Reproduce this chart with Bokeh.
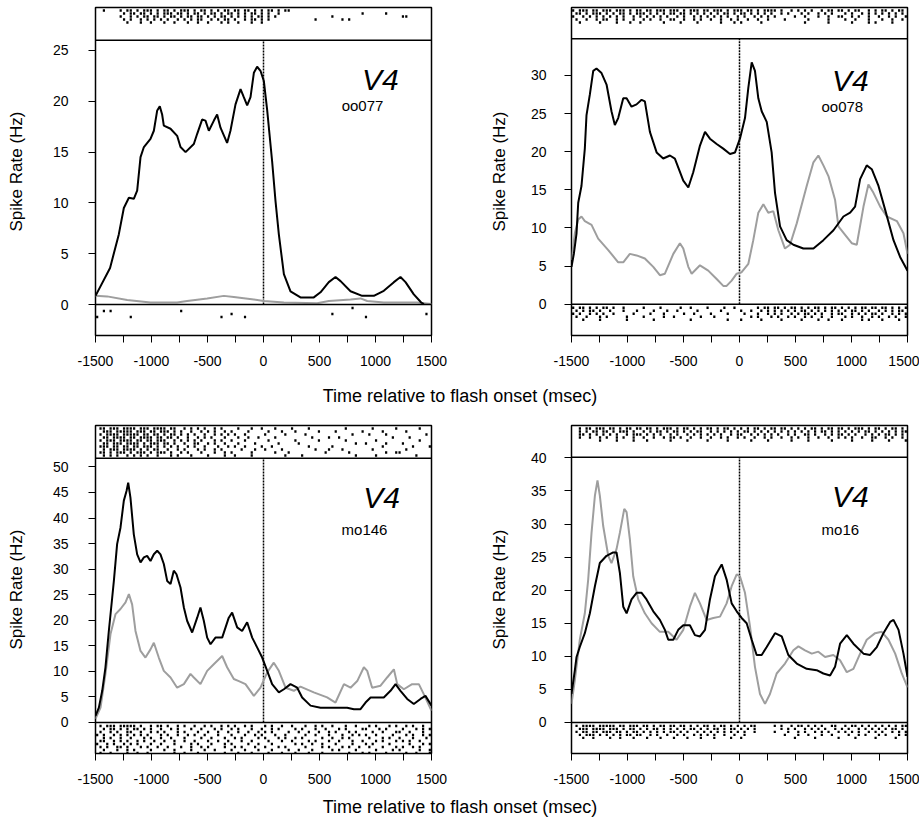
from bokeh.plotting import figure
from bokeh.layouts import column, row
from bokeh.models import FixedTicker, Label, Span
from bokeh.embed import file_html
from bokeh.resources import INLINE

FONT = "Liberation Sans"
GREY = "#9e9e9e"
AREA = "V4"
X_LABEL = "Time relative to flash onset (msec)"
Y_LABEL = "Spike Rate (Hz)"
X_TICKS = [-1500, -1000, -500, 0, 500, 1000, 1500]
X_TICK_LABELS = ["-1500", "-1000", "-500", "0", "500", "1000", "1500"]
X_MINOR = [-1250, -750, -250, 250, 750, 1250]
ONSET = 0
BIN_MS = 30  # raster strings: one character per 30 ms bin, 'x' = spike

# ---------------- panel 1 : oo077 ----------------
p1_id = "oo077"
p1_yticks = [0, 5, 10, 15, 20, 25]
p1_black_t = [-1500, -1370, -1292, -1247, -1202, -1158, -1128, -1098, -1068, -1009, -979, -949, -926, -905, -890,
              -830, -771, -741, -696, -622, -592, -548, -518, -488, -443, -414, -384, -325, -295, -250, -205, -176,
              -146, -116, -86, -57, -27, 3, 33, 77, 107, 137, 182, 241, 330, 449, 509, 583, 643, 688, 777, 881, 985,
              1074, 1164, 1223, 1268, 1342, 1408, 1432]
p1_black_v = [0.85, 3.6, 6.9, 9.5, 10.5, 10.4, 11.2, 14.5, 15.5, 16.3, 17.1, 19.1, 19.5, 18.7, 17.6, 17.3, 16.6, 15.5,
              15.0, 15.8, 16.8, 18.2, 18.1, 17.1, 18.1, 18.7, 17.4, 15.9, 17.1, 19.7, 21.2, 20.4, 19.6, 20.4, 22.8,
              23.4, 23.0, 22.0, 19.1, 14.1, 10.2, 6.9, 3.0, 1.3, 0.7, 0.7, 1.2, 2.2, 2.7, 2.3, 1.3, 0.85, 0.85, 1.35,
              2.2, 2.7, 2.2, 1.0, 0.2, 0.03]
p1_grey_t = [-1500, -1396, -1217, -1009, -771, -682, -503, -354, -265, -86, 3, 182, 479, 583, 777, 866, 926, 1074,
             1372, 1500]
p1_grey_v = [0.85, 0.8, 0.45, 0.2, 0.2, 0.35, 0.6, 0.85, 0.75, 0.5, 0.35, 0.2, 0.13, 0.35, 0.5, 0.6, 0.35, 0.2, 0.2,
             0.05]
p1_top_rows = [
    "..x...." + "x.xx.x.x" "xx.x.xx." "x.xxx.x." "xx.x.x.x" "x.xx.xx." "x.x.xx.x" + ".xx" + "." * 42,
    "......." + ".x.xx.xx" ".x.x.xxx" ".xx.x.xx" ".x.xx.x." "xx.x.x.x" "x.x.x..x" + "." * 24 + "x" + "." * 6 + "x" + "." * 13,
    "......." + "x..x.x.x" "x.xx.x.x" "x.x.xx.x" "x.x.x.xx" ".x.x.x.x" ".xx.x.x." + "." * 15 + "x" + "." * 20 + "xx" + "." * 7,
    "......." + ".x.x..x." "x.x.x.x." ".x.x.x.x" "x..x.x.x" "x.x..x.x" "x.x.x..." + "." * 10 + "x" + "." * 7 + "x.x" + "." * 24,
    "......." + "..x...x." ".x...x.." "x...x..x" "..x...x." "x..x...x" "..x....." + "." * 45,
]
p1_bottom_rows = [
    "." * 76 + "x" + "." * 23,
    "..x.x" + "." * 20 + "x" + "." * 74,
    "." * 40 + "x" + "." * 29 + "x" + "." * 27 + "x" + ".",
    "x" + "." * 9 + "x" + "." * 26 + "x" + "." * 6 + "x" + "." * 35 + "x" + "." * 19,
]

# ---------------- panel 2 : oo078 ----------------
p2_id = "oo078"
p2_yticks = [0, 5, 10, 15, 20, 25, 30]
p2_black_t = [-1500, -1479, -1455, -1440, -1411, -1381, -1366, -1336, -1306, -1277, -1232, -1187, -1143, -1113,
              -1083, -1038, -1008, -964, -919, -874, -845, -800, -740, -681, -621, -577, -502, -457, -413, -353,
              -308, -264, -204, -145, -85, -40, 4, 49, 79, 109, 138, 168, 198, 243, 287, 317, 362, 421, 481, 570,
              660, 749, 839, 928, 988, 1032, 1077, 1136, 1181, 1241, 1300, 1375, 1434, 1500]
p2_black_v = [4.9, 6.6, 9.3, 13.3, 15.5, 20.4, 24.8, 27.5, 30.6, 30.9, 30.3, 28.8, 25.3, 23.5, 24.4, 27.0, 27.0,
              25.9, 26.2, 26.8, 26.6, 22.6, 19.9, 19.1, 19.5, 19.1, 16.2, 15.3, 17.3, 20.8, 22.6, 21.7, 21.0, 20.4,
              19.7, 19.9, 21.7, 24.4, 28.4, 31.7, 30.6, 27.0, 25.3, 23.9, 19.9, 14.6, 10.2, 8.4, 7.8, 7.3, 7.3, 8.4,
              9.7, 11.5, 12.0, 12.8, 16.4, 18.2, 17.7, 15.5, 12.4, 8.4, 6.2, 4.4]
p2_grey_t = [-1500, -1470, -1440, -1411, -1381, -1321, -1262, -1172, -1083, -1038, -979, -919, -845, -770, -711,
             -666, -591, -532, -502, -457, -427, -353, -279, -204, -145, -115, -70, -25, 19, 79, 123, 168, 213, 257,
             302, 347, 406, 451, 511, 600, 660, 704, 749, 794, 853, 883, 943, 1002, 1047, 1107, 1151, 1196, 1256,
             1315, 1405, 1464, 1500]
p2_grey_v = [5.8, 9.3, 11.1, 11.5, 10.9, 10.4, 8.6, 7.1, 5.5, 5.5, 6.6, 6.4, 6.0, 4.9, 3.8, 4.0, 6.6, 8.0, 7.3, 4.9,
             4.0, 5.1, 4.4, 3.3, 2.4, 2.4, 3.1, 4.0, 4.2, 5.3, 8.4, 12.0, 13.1, 12.0, 12.2, 9.7, 7.3, 7.8, 10.6, 15.5,
             18.6, 19.5, 18.2, 16.8, 13.7, 10.2, 9.1, 8.0, 7.8, 12.8, 15.7, 14.6, 12.8, 11.5, 10.9, 9.3, 6.6]
p2_top_rows = [
    "x.xxx.xx.x" "xx.xxx.x.x" "x.xx.xxx.x" "xx.x.xxx.x" "x.xxx.x.xx" "x.xx.x.xxx" "x.x..x.x.x" ".x..x.xx.x" "x.x.xx..x." "x.xx.x.xx.",
    ".xx.x.xxx." "x.x.xx.x.x" "xx.x.x.x.x" "x.xx.x.x.x" ".x.x.xx.x." "xx.x.x.x.x" "..x.x...x." "x..x.x.x.." ".x.x..x.x." "x.x.x.x.x.",
    "x..x.x.x.x" ".x.x.x..x." "x.x.x.x.x." ".x.x..x.x." "x.x.x.x..x" ".x..x.x.x." "x.....x..x" "...x..x..x" "x..x.x..x." ".x..x.x..x",
    ".x..x..x.x" "x..x.x..x." ".x.x..x..x" "x..x..x.x." ".x..x..x.x" "..x..x..x." "...x......" "x.....x..." ".x..x...x." "..x..x..x.",
    "..x.....x." "...x...x.." "x......x.." "..x....x.." "....x...x." "x.....x..." ".........x" "......x..." "...x....x." "x....x....",
]
p2_bottom_rows = [
    "x.xx.x.x.x" "x.x..x...." ".x....x..." "..x..x...." "x....x..x." ".....x.xx." "xx.x.xx.x." "x.xx.x.xx." "x.x.x.xx.x" "x.xx.x.x.x",
    ".x.x.xx.x." ".x...x...x" "....x...x." ".x.....x.." "....x....." "x..x..x.x." "x.x.x.x.xx" ".x.x.x.x.x" ".x.xx.x.x." ".x.x.x.xx.",
    "x.x..x.x.x" "..x.....x." "...x...x.." "...x..x..." ".x....x..." ".x...x..x." "x.x..x.x.x" "x.x.x..x.x" "x..x.x.x.x" "x.x..x.x.x",
    ".x..x...x." "x.....x..." ".x.....x.." "x.......x." "..x......." "...x.x...x" ".x..x.x..x" ".x..x..x.." ".x.x..x..x" ".x..x.x..x",
    "...x....x." "......x..." "....x....." ".....x...." "......x..." "x.....x..." "..x.....x." "...x..x..." "x.....x.x." "..x....x..",
]

# ---------------- panel 3 : mo146 ----------------
p3_id = "mo146"
p3_yticks = [0, 5, 10, 15, 20, 25, 30, 35, 40, 45, 50]
p3_black_t = [-1500, -1470, -1440, -1411, -1381, -1351, -1336, -1307, -1277, -1247, -1223, -1208, -1188, -1158,
              -1128, -1098, -1068, -1039, -1009, -979, -949, -920, -890, -860, -830, -801, -777, -741, -711, -682,
              -637, -592, -563, -533, -503, -473, -429, -369, -310, -280, -235, -191, -146, -101, -57, -12, 33, 77,
              137, 182, 241, 301, 345, 420, 509, 628, 747, 807, 866, 911, 956, 1074, 1134, 1179, 1223, 1283, 1342,
              1402, 1446, 1500]
p3_black_v = [1.3, 2.9, 6.2, 10.8, 17.9, 24.4, 27.7, 34.9, 38.1, 43.4, 45.3, 46.9, 44.0, 36.8, 32.9, 31.3, 32.3,
              32.6, 31.6, 32.9, 33.6, 32.9, 31.0, 27.7, 27.1, 29.7, 29.0, 26.4, 22.5, 19.9, 17.6, 20.5, 22.5, 19.9,
              16.6, 15.3, 16.6, 16.6, 20.5, 21.5, 18.6, 17.9, 19.6, 16.6, 14.7, 12.7, 10.1, 7.5, 5.9, 6.5, 7.5, 6.8,
              4.9, 3.3, 2.9, 2.9, 2.9, 2.6, 2.6, 3.9, 4.9, 4.9, 6.2, 7.5, 6.2, 4.6, 3.6, 4.6, 5.2, 3.3]
p3_grey_t = [-1500, -1455, -1411, -1366, -1321, -1277, -1232, -1202, -1173, -1143, -1098, -1054, -1009, -979, -935,
             -890, -830, -771, -711, -652, -622, -563, -503, -444, -369, -325, -265, -220, -161, -86, -27, 33, 92,
             137, 197, 271, 330, 449, 568, 643, 718, 777, 837, 896, 926, 970, 1045, 1104, 1164, 1194, 1253, 1327,
             1387, 1432, 1500]
p3_grey_v = [0.7, 2.9, 9.5, 17.3, 21.2, 22.2, 23.5, 25.1, 23.1, 17.9, 14.0, 12.7, 14.3, 15.6, 12.7, 10.1, 8.8, 6.8,
             7.5, 9.5, 8.8, 7.5, 10.1, 11.4, 13.0, 10.8, 8.5, 8.1, 7.5, 5.2, 6.8, 9.8, 11.7, 10.1, 6.8, 6.2, 7.0, 5.9,
             4.9, 3.9, 7.5, 6.8, 8.1, 10.8, 10.1, 6.8, 7.2, 8.8, 10.4, 7.5, 6.5, 7.5, 7.5, 5.5, 2.3]
p3_top_rows = [
    ".xx.xxx.xx" "xx.xxx.xxx" "x.xx..x.x." "x.x..x.x.." "..x...x..x" "...x....x." "...x......" "....x....." "..x......x" "......x...",
    "..xxx.xxxx" "x.xxx.xx.x" "xx.x.x..x." ".x.x.x..x." "x....x...." ".x...x...x" "......x..." ".x.......x" ".....x...." "..x.......",
    ".x.xxxx.xx" "xxx.xx.xx." "x.xx.x.x.x" "..x..x.x.x" ".x..x....." "x.....x..." "..x......." "......x..." ".x....x..." "........x.",
    "..xx.xxxx." "xx.xxxx.xx" ".xx.x..x.." "x.x.x...x." "..x..x..x." "...x......" "....x....x" "..x......." "........x." "...x......",
    ".x.xxx.xxx" "x.xx.xx.xx" "x..x.x.x.x" ".x...x.x.." "x...x....." ".x.......x" "......x..." "....x....." "...x......" "......x...",
    "..xx.xxx.x" "xxx.x.xxx." "xx.x..x..x" "x..x.x..x." "..x....x.." "....x....." "x........." ".......x.." "x.....x..." ".x........",
    ".xxx.xx.xx" ".xx.xxx.x." "x.x.x..x.x" "..x...x..x" ".x..x....x" "..x......." "...x......" "x........." ".....x...." "....x....x",
    "..x.xxx.xx" "xx.x.x.xx." ".x..x.x..." "x.x..x.x.." "...x...x.." "x....x...." ".....x...x" "...x......" "..x......." "..x.......",
    ".xx.x.xxx." "x.xxx.x.xx" "x.x..x.x.." ".x...x..x." "x.....x..." "...x...x.." "........x." ".....x...." "......x..x" "x.........",
    "..x.x.x..x" ".x.x.x..x." "..x.x...x." "...x....x." ".x....x..." "......x..." ".x........" ".......x.." "...x......" ".....x....",
]
p3_bottom_rows = [
    ".x.xxx.xxx" "xx.x..x.xx" ".x..x.x..x" "..x.x..x.x" ".x..x.x..." "x.x..x..x." "..x..x.x.." "x...x..x.." ".x.x...x.x" "..x.x..x..",
    "..x.xx.x.x" ".xx.x.x..x" "..x.x...x." ".x...x.x.." "x.x...x..x" "..x.x....x" ".x...x..x." "..x.x....x" "x...x.x..." ".x...x.x.x",
    ".x..x.x..x" "x..x..x.x." "x...x.x..." "x..x..x..x" "..x..x..x." "x.x....x.." "x..x..x..x" ".x...x.x.." "..x..x...x" "x..x...x..",
    "x.x..x.x.x" ".x.x.x...x" ".x..x..x.x" "..x...x..." "x...x..x.x" "...x..x..." "..x..x...x" "...x..x.x." "x..x....x." "..x.x..x.x",
    "..x.x..x.." "x...x.x..x" "..x...x..." ".x..x...x." ".x.x....x." "x...x.x..x" ".x.....x.." "x..x.x...." ".x...x.x.." "x...x...x.",
    ".xx..x.x.x" "..x.x..x.." "x..x..x..x" "...x..x..x" "...x..x..." ".x...x..x." "...x.x...x" "..x...x..x" "...x.x...x" ".x.x..x...",
    "x..x.x..x." "x.x...x..x" "...x....x." "x...x...x." "x....x..x." "..x......x" ".x..x..x.." ".x....x..." "x.x....x.." "...x...x.x",
    ".x.x..xx.x" "...x.x..x." ".x...x..x." ".x.x....x." ".x.x...x.." "x...x.x..." "..x....x.x" "...x.x..x." ".x...x...x" ".x..x.x...",
    "..x...x..x" ".x....x..." "x..x....x." "..x..x...." "x...x...x." "..x....x.." "x...x....." "x.x....x.." "...x....x." "x.....x..x",
    ".x..x....x" "..x..x...." "...x..x..." "x.......x." "..x...x..." ".x...x...x" "...x...x.." ".....x...x" ".x....x..." "..x..x...x",
]

# ---------------- panel 4 : mo16 ----------------
p4_id = "mo16"
p4_yticks = [0, 5, 10, 15, 20, 25, 30, 35, 40]
p4_black_t = [-1500, -1470, -1455, -1426, -1381, -1336, -1291, -1247, -1187, -1128, -1098, -1068, -1038, -1008,
              -964, -919, -874, -830, -770, -711, -666, -636, -591, -547, -502, -443, -398, -353, -308, -264, -219,
              -159, -115, -70, -25, 19, 64, 109, 153, 198, 243, 317, 377, 436, 511, 600, 689, 749, 809, 853, 898,
              958, 1017, 1107, 1166, 1226, 1285, 1345, 1375, 1420, 1464, 1500]
p4_black_v = [4.3, 7.9, 9.9, 11.4, 13.5, 16.5, 20.6, 24.1, 25.2, 25.7, 25.7, 22.6, 17.5, 16.5, 18.6, 19.6, 19.6, 18.6,
              16.8, 15.5, 14.0, 12.5, 12.5, 14.0, 14.7, 14.7, 13.2, 13.0, 14.0, 18.6, 22.1, 23.9, 21.6, 18.0, 16.8,
              15.8, 15.0, 12.5, 10.2, 10.2, 11.4, 13.5, 13.0, 10.2, 8.9, 8.1, 7.9, 7.4, 7.1, 8.4, 11.9, 13.2, 11.9,
              10.4, 10.2, 11.4, 13.5, 15.2, 15.5, 14.0, 10.4, 6.9]
p4_grey_t = [-1500, -1470, -1426, -1381, -1351, -1321, -1291, -1268, -1247, -1217, -1172, -1143, -1098, -1068, -1029,
             -1008, -979, -949, -904, -845, -785, -711, -636, -562, -502, -443, -398, -353, -294, -234, -174, -115,
             -70, -25, 4, 49, 94, 138, 183, 228, 272, 332, 406, 481, 526, 585, 645, 704, 764, 838, 898, 958, 1017,
             1077, 1136, 1211, 1270, 1330, 1390, 1449, 1500]
p4_grey_v = [2.8, 6.4, 12.5, 16.5, 21.6, 28.7, 34.3, 36.6, 34.3, 29.7, 25.2, 24.1, 26.2, 28.7, 32.3, 31.8, 27.7, 22.1,
             18.6, 16.5, 15.0, 13.7, 13.7, 12.5, 14.0, 17.5, 19.6, 18.0, 15.5, 15.8, 16.0, 18.0, 20.6, 22.4, 22.1,
             19.6, 14.5, 8.4, 4.3, 2.8, 4.3, 7.4, 8.9, 10.9, 11.5, 10.9, 10.4, 10.7, 9.9, 10.2, 9.4, 7.6, 8.1, 10.4,
             12.5, 13.5, 13.7, 12.5, 10.4, 7.4, 5.3]
p4_top_rows = [
    "..x.xx.xxx" ".xx.x.xx.x" "x.xx.x.xxx" ".x.xx.x.x." "xx.x.xx.x." "x.x.xx.x.x" "x.xx.x.x.x" ".xx.x.xx.x" "x.x.xxx.x." "xx.x.xx.x.",
    "..x.x.xx.x" "x.x.xxx.x." ".x.x.xx.x." "xx.x.x.xx." ".x.x.x.x.x" ".xx.x.x.x." "x.x.x.x.x." "x.x.xx.x.x" ".x.x.x.xx." "x.x.x.x.xx",
    "..xx.x.x.x" ".x.x..x.xx" "x.x.x.x..x" ".x..x.x.x." "x.x.x..x.x" "x..x.x.x.x" ".x..x.x..x" "x.x..x.x.x" "x.x.x..x.x" ".x.xx.x.x.",
    "..x..x..x." "x..x.x..x." ".x..x..x.x" "x.x..x..x." ".x..x.x..x" ".x..x..x.x" "..x..x.x.." "x..x..x..x" ".x.x..x..x" "x..x.x..x.",
    "........x." "...x....x." "..x......x" "....x....." "x.....x..." "...x....x." ".....x...." "x......x.." "...x.....x" "....x....x",
]
p4_bottom_rows = [
    ".x.xxxx.xx" "xxx.xx.xxx" ".xx.x.xx.x" "x.xx.x.x.x" "x.x.xx.x.x" ".x.xx....." "x.x..x.xx." "x.x.x..xx." ".x.xx.x.x." "x.x.x.x.xx",
    "..xxx.xxxx" ".xxx.x.xx." "x.x.xx.x.x" ".x.x.xx.x." "x.xx.x.xx." "x.x.x....." "..x.x.x..x" ".x.x.x..x." "x.x..x.x.x" ".x.x.xx.x.",
    ".x.xx.xx.x" "xx.xx.x.xx" ".x.x.x.x.x" "x.x.x..x.x" ".x.x.x.x.x" ".x..x....." "x...x..x.x" "..x.x.x..x" ".x.x.x..x." "x.x..x.x.x",
    "..x.xxx.x." "x.x.x.xx.x" "x..x.x..x." ".x.x..x.x." "x.x..x..x." ".x........" "...x...x.." "x...x..x.." "..x..x.x.." ".x.x...x.x",
    "...x..x..." ".x..x...x." "..x...x..." "x...x...x." "..x....x.." "x........." "......x..." "..x......x" "....x....." "x.....x...",
]


def raster_points(rows, y_first, y_step):
    xs, ys = [], []
    for r, s in enumerate(rows):
        for i, ch in enumerate(s[:100]):
            if ch == "x":
                xs.append(-1500 + (i + 0.5) * BIN_MS)
                ys.append(y_first + r * y_step)
    return xs, ys


def make_panel(cfg):
    fh = cfg["height"] - cfg["top"] - cfg["bottom"]
    ymin, ymax, bound = cfg["yrange"][0], cfg["yrange"][1], cfg["boundary"]
    k = fh / (ymax - ymin)  # px per unit
    p = figure(width=cfg["width"], height=cfg["height"], x_range=(-1500, 1500), y_range=(ymin, ymax),
               toolbar_location=None, output_backend="svg", title=None,
               min_border_left=cfg["left"], min_border_right=cfg["right"],
               min_border_top=cfg["top"], min_border_bottom=cfg["bottom"])
    p.grid.visible = False
    p.outline_line_color = "black"
    p.outline_line_width = 1.5
    p.background_fill_color = "white"
    p.border_fill_color = "white"

    # x axis
    xa = p.xaxis[0]
    xa.ticker = FixedTicker(ticks=X_TICKS, minor_ticks=X_MINOR)
    xa.major_label_overrides = {t: l for t, l in zip(X_TICKS, X_TICK_LABELS)}
    xa.axis_line_color = None
    xa.major_tick_out = 7
    xa.major_tick_in = 0
    xa.minor_tick_out = 7
    xa.minor_tick_in = 0
    xa.major_tick_line_color = "black"
    xa.minor_tick_line_color = "black"
    xa.major_label_standoff = 13
    xa.major_label_text_font = FONT
    xa.major_label_text_font_size = "14px"
    xa.major_label_text_color = "black"

    # y axis
    ya = p.yaxis[0]
    ya.ticker = FixedTicker(ticks=cfg["yticks"], minor_ticks=[])
    ya.axis_line_color = None
    ya.major_tick_out = 7
    ya.major_tick_in = 0
    ya.major_tick_line_color = "black"
    ya.major_label_standoff = cfg["ystandoff"]
    ya.major_label_text_font = FONT
    ya.major_label_text_font_size = "14px"
    ya.major_label_text_color = "black"
    ya.axis_label = Y_LABEL
    ya.axis_label_text_font = FONT
    ya.axis_label_text_font_size = "17px"
    ya.axis_label_text_font_style = "normal"
    ya.axis_label_text_color = "black"
    ya.axis_label_standoff = cfg["lstandoff"]

    # raster boxes separators
    for loc in (0, bound):
        p.add_layout(Span(location=loc, dimension="width", line_color="black", line_width=1.5))
    p.segment(x0=[ONSET], y0=[0], x1=[ONSET], y1=[bound], line_color="black", line_width=1.5, line_dash="2 1")

    # rasters
    step = 3.0 / k
    tx, ty = raster_points(cfg["top_rows"], ymax - 3.0 / k, -step)
    bx, by = raster_points(cfg["bottom_rows"], -3.5 / k, -step)
    p.rect(x=tx + bx, y=ty + by, width=2.2, height=2.4, width_units="screen", height_units="screen",
           fill_color="black", line_color=None)

    # PSTH curves
    p.line(cfg["grey_t"], cfg["grey_v"], line_color=GREY, line_width=2)
    p.line(cfg["black_t"], cfg["black_v"], line_color="black", line_width=2)

    # text
    vx, vy = cfg["v4_pos"]
    p.add_layout(Label(x=vx, y=vy, text=AREA, text_font=FONT, text_font_size="30px", text_font_style="italic",
                       text_align="center", text_baseline="middle", text_color="black"))
    ix, iy = cfg["id_pos"]
    p.add_layout(Label(x=ix, y=iy, text=cfg["id"], text_font=FONT, text_font_size="15px",
                       text_align="center", text_baseline="middle", text_color="black"))
    return p


def make_strip(h):
    s = figure(width=919, height=h, x_range=(0, 1), y_range=(0, 1), toolbar_location=None,
               output_backend="svg", title=None, x_axis_type=None, y_axis_type=None,
               min_border_left=0, min_border_right=0, min_border_top=0, min_border_bottom=0)
    s.grid.visible = False
    s.outline_line_color = None
    s.add_layout(Label(x=0.5, y=0.5, text=X_LABEL, text_font=FONT, text_font_size="18px",
                       text_align="center", text_baseline="middle", text_color="black"))
    return s


p1 = make_panel(dict(width=459, height=380, left=95, right=28, top=7, bottom=45, yrange=(-3.05, 29.23),
                     boundary=26.0, yticks=p1_yticks, ystandoff=20, lstandoff=24,
                     black_t=p1_black_t, black_v=p1_black_v, grey_t=p1_grey_t, grey_v=p1_grey_v,
                     top_rows=p1_top_rows, bottom_rows=p1_bottom_rows,
                     v4_pos=(1044, 22.1), id_pos=(884, 19.6), id=p1_id))
p2 = make_panel(dict(width=460, height=380, left=112, right=12, top=7, bottom=45, yrange=(-4.1, 38.9),
                     boundary=34.8, yticks=p2_yticks, ystandoff=18, lstandoff=19,
                     black_t=p2_black_t, black_v=p2_black_v, grey_t=p2_grey_t, grey_v=p2_grey_v,
                     top_rows=p2_top_rows, bottom_rows=p2_bottom_rows,
                     v4_pos=(990, 29.3), id_pos=(918, 25.9), id=p2_id))
p3 = make_panel(dict(width=459, height=383, left=95, right=28, top=15, bottom=40, yrange=(-6.07, 58.1),
                     boundary=51.7, yticks=p3_yticks, ystandoff=20, lstandoff=24,
                     black_t=p3_black_t, black_v=p3_black_v, grey_t=p3_grey_t, grey_v=p3_grey_v,
                     top_rows=p3_top_rows, bottom_rows=p3_bottom_rows,
                     v4_pos=(1054, 44.0), id_pos=(902, 37.8), id=p3_id))
p4 = make_panel(dict(width=460, height=383, left=112, right=12, top=15, bottom=40, yrange=(-4.7, 44.9),
                     boundary=40.1, yticks=p4_yticks, ystandoff=18, lstandoff=19,
                     black_t=p4_black_t, black_v=p4_black_v, grey_t=p4_grey_t, grey_v=p4_grey_v,
                     top_rows=p4_top_rows, bottom_rows=p4_bottom_rows,
                     v4_pos=(990, 34.1), id_pos=(900, 29.2), id=p4_id))

layout = column(row(p1, p2), make_strip(30), row(p3, p4), make_strip(27))
open("out.html", "w").write(file_html(layout, INLINE))
